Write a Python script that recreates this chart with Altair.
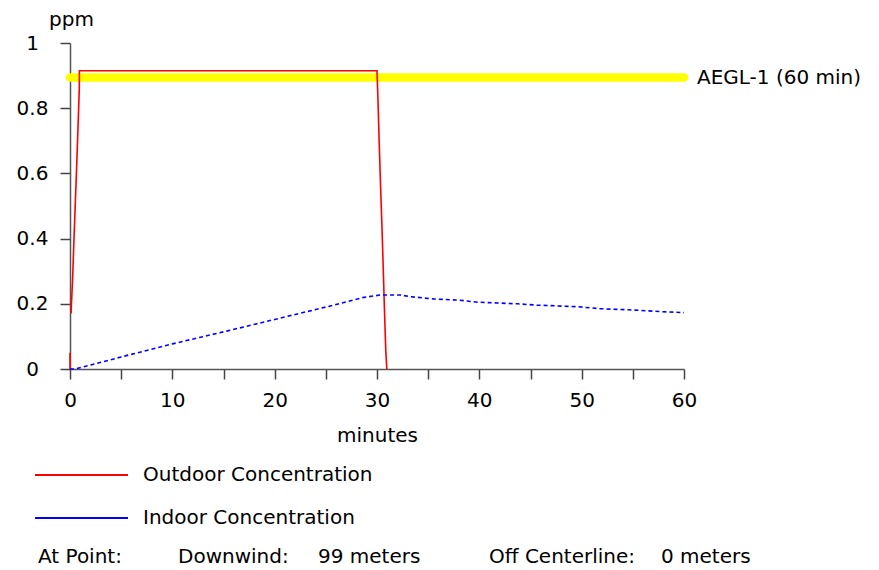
import altair as alt
import pandas as pd

# ---- data ----
out_time = [0, 0, 0.1, 0.26, 0.39, 0.52, 0.65, 0.78, 0.91, 0.92, 30.0, 30.07, 30.2,
            30.33, 30.47, 30.6, 30.72, 30.86, 30.96]
out_ppm = [0, 0.05, 0.17, 0.28, 0.40, 0.51, 0.62, 0.74, 0.86, 0.915, 0.915, 0.85, 0.71,
           0.58, 0.45, 0.32, 0.19, 0.055, 0]
out_seg = [0, 0, 1, 1, 1, 1, 1, 1, 1, 1, 1, 1, 1, 1, 1, 1, 1, 1, 1]

in_time = [0, 0.5, 2, 5, 10, 15, 20, 25, 28.6, 30.3, 32.3, 33.2, 35.5, 38.1, 39.8, 43.7,
           45.6, 49.6, 51.8, 55, 57.7, 60]
in_ppm = [0, 0.0, 0.012, 0.037, 0.077, 0.114, 0.152, 0.19, 0.219, 0.227, 0.227, 0.222,
          0.215, 0.211, 0.205, 0.2, 0.196, 0.191, 0.185, 0.181, 0.176, 0.173]

aegl_time = [0, 60]
aegl_ppm = [0.894, 0.894]
aegl_label = "AEGL-1 (60 min)"

x_ticks = list(range(0, 61, 5))
y_ticks = [0, 0.2, 0.4, 0.6, 0.8, 1]

legend_outdoor = "Outdoor Concentration"
legend_indoor = "Indoor Concentration"
footer = ["At Point:", "Downwind:", "99 meters", "Off Centerline:", "0 meters"]

FONT = "DejaVu Sans"
FS = 20

out_df = pd.DataFrame({"t": out_time, "v": out_ppm, "seg": out_seg})
in_df = pd.DataFrame({"t": in_time, "v": in_ppm})
aegl_df = pd.DataFrame({"t": aegl_time, "v": aegl_ppm, "label": [aegl_label] * 2})

xs = alt.Scale(domain=[0, 60], nice=False, zero=False)
ys = alt.Scale(domain=[0, 1], nice=False)

x_axis = alt.Axis(
    values=x_ticks,
    labelExpr="datum.value % 10 === 0 ? datum.label : ''",
    tickSize=10, labelPadding=11, labelFlush=False, labelOverlap=False,
    title="minutes", titleX=307, titleY=72, titleBaseline="alphabetic",
    titleAlign="center",
)
y_axis = alt.Axis(
    values=y_ticks, format="~g", labelAlign="center", labelBaseline="middle",
    labelPadding=28, tickSize=10, labelFlush=False, labelOverlap=False,
    title="ppm", titleAngle=0, titleX=1, titleY=-18, titleAlign="center",
    titleBaseline="alphabetic",
)

aegl = alt.Chart(aegl_df).mark_line(color="#ffff00", strokeWidth=8.5, strokeCap="round").encode(
    x=alt.X("t:Q", scale=xs, axis=x_axis),
    y=alt.Y("v:Q", scale=ys, axis=y_axis),
)
aegl_text = alt.Chart(aegl_df).transform_filter("datum.t == 60").mark_text(
    align="left", baseline="middle", dx=13, font=FONT, fontSize=FS, color="#000"
).encode(x=alt.X("t:Q", scale=xs), y=alt.Y("v:Q", scale=ys), text="label:N")

outdoor = alt.Chart(out_df).mark_line(color="#ff0000", strokeWidth=1.6).encode(
    x=alt.X("t:Q", scale=xs), y=alt.Y("v:Q", scale=ys), detail="seg:N",
    order="index:Q",
).transform_window(index="row_number()")

indoor = alt.Chart(in_df).mark_line(color="#0000ff", strokeWidth=1.6, strokeDash=[4, 3]).encode(
    x=alt.X("t:Q", scale=xs), y=alt.Y("v:Q", scale=ys)
)

one = alt.Data(values=[{}])


def rule(color, y):
    return alt.Chart(one).mark_rule(color=color, strokeWidth=2).encode(
        x=alt.value(-35), x2=alt.value(58), y=alt.value(y)
    )


def txt(s, x, y):
    return alt.Chart(one).mark_text(
        align="left", baseline="alphabetic", font=FONT, fontSize=FS, color="#000"
    ).encode(x=alt.value(x), y=alt.value(y), text=alt.value(s))


legend_layers = [
    rule("#ff0000", 432), txt(legend_outdoor, 73, 438),
    rule("#0000ff", 475), txt(legend_indoor, 73, 481),
    txt(footer[0], -32, 520), txt(footer[1], 108, 520), txt(footer[2], 248, 520),
    txt(footer[3], 419, 520), txt(footer[4], 591, 520),
]

chart = alt.layer(aegl, aegl_text, outdoor, indoor, *legend_layers).properties(
    width=614, height=326,
    autosize=alt.AutoSizeParams(type="none"),
    padding={"left": 62, "top": 35, "right": 187, "bottom": 200},
).configure_view(stroke=None).configure_axis(
    grid=False, domainColor="#555", domainWidth=1.5, tickColor="#444", tickWidth=1.5,
    labelFont=FONT, labelFontSize=FS, labelColor="#000",
    titleFont=FONT, titleFontSize=FS, titleColor="#000", titleFontWeight="normal",
)

chart.save("out.html", embed_options={"renderer": "svg", "actions": False})
